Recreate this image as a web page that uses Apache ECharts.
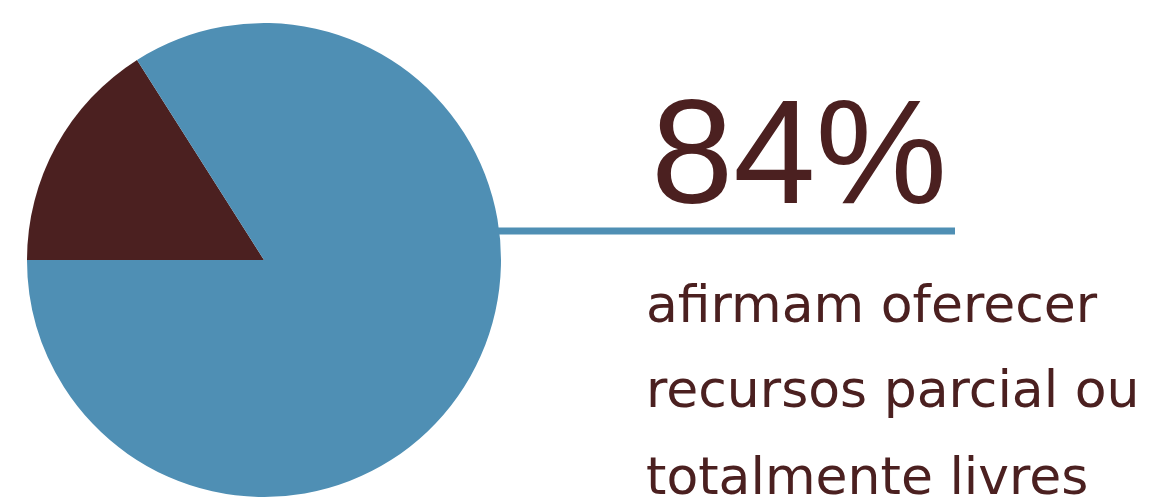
<!DOCTYPE html>
<html><head><meta charset="utf-8">
<script src="https://cdn.jsdelivr.net/npm/echarts@6/dist/echarts.min.js"></script>
<style>html,body{margin:0;padding:0;background:#fff;}#c{width:1167px;height:497px;}</style>
</head><body><div id="c"></div>
<script>
const categories = ['Não oferecem', 'Oferecem recursos parcial ou totalmente livres'];
const values = [16, 84];
const colors = ['#4b2020', '#4f8fb4'];
const headline = '84%';
const captionLines = ['afirmam oferecer', 'recursos parcial ou', 'totalmente livres'];

const chart = echarts.init(document.getElementById('c'));
const textColor = '#4b2020';
const bodyFont = '400 52px "DejaVu Sans"';
chart.setOption({
  backgroundColor: '#ffffff',
  animation: false,
  series: [{
    type: 'pie',
    center: [264, 260],
    radius: 237,
    startAngle: 180,
    clockwise: true,
    label: { show: false },
    labelLine: { show: false },
    silent: true,
    data: categories.map((c, i) => ({ name: c, value: values[i], itemStyle: { color: colors[i] } }))
  }],
  graphic: [
    { type: 'line', shape: { x1: 495, y1: 231, x2: 955, y2: 231 }, style: { stroke: '#4f8fb4', lineWidth: 7 }, z: -1 },
    { type: 'text', x: 651, y: 236, style: { text: headline, font: '400 148px "Liberation Sans"', fill: textColor, verticalAlign: 'bottom' } },
    { type: 'text', x: 646, y: 334, style: { text: captionLines[0], font: bodyFont, fill: textColor, verticalAlign: 'bottom' } },
    { type: 'text', x: 646, y: 419, style: { text: captionLines[1], font: bodyFont, fill: textColor, verticalAlign: 'bottom' } },
    { type: 'text', x: 646, y: 506, style: { text: captionLines[2], font: bodyFont, fill: textColor, verticalAlign: 'bottom' } }
  ]
});
</script></body></html>
